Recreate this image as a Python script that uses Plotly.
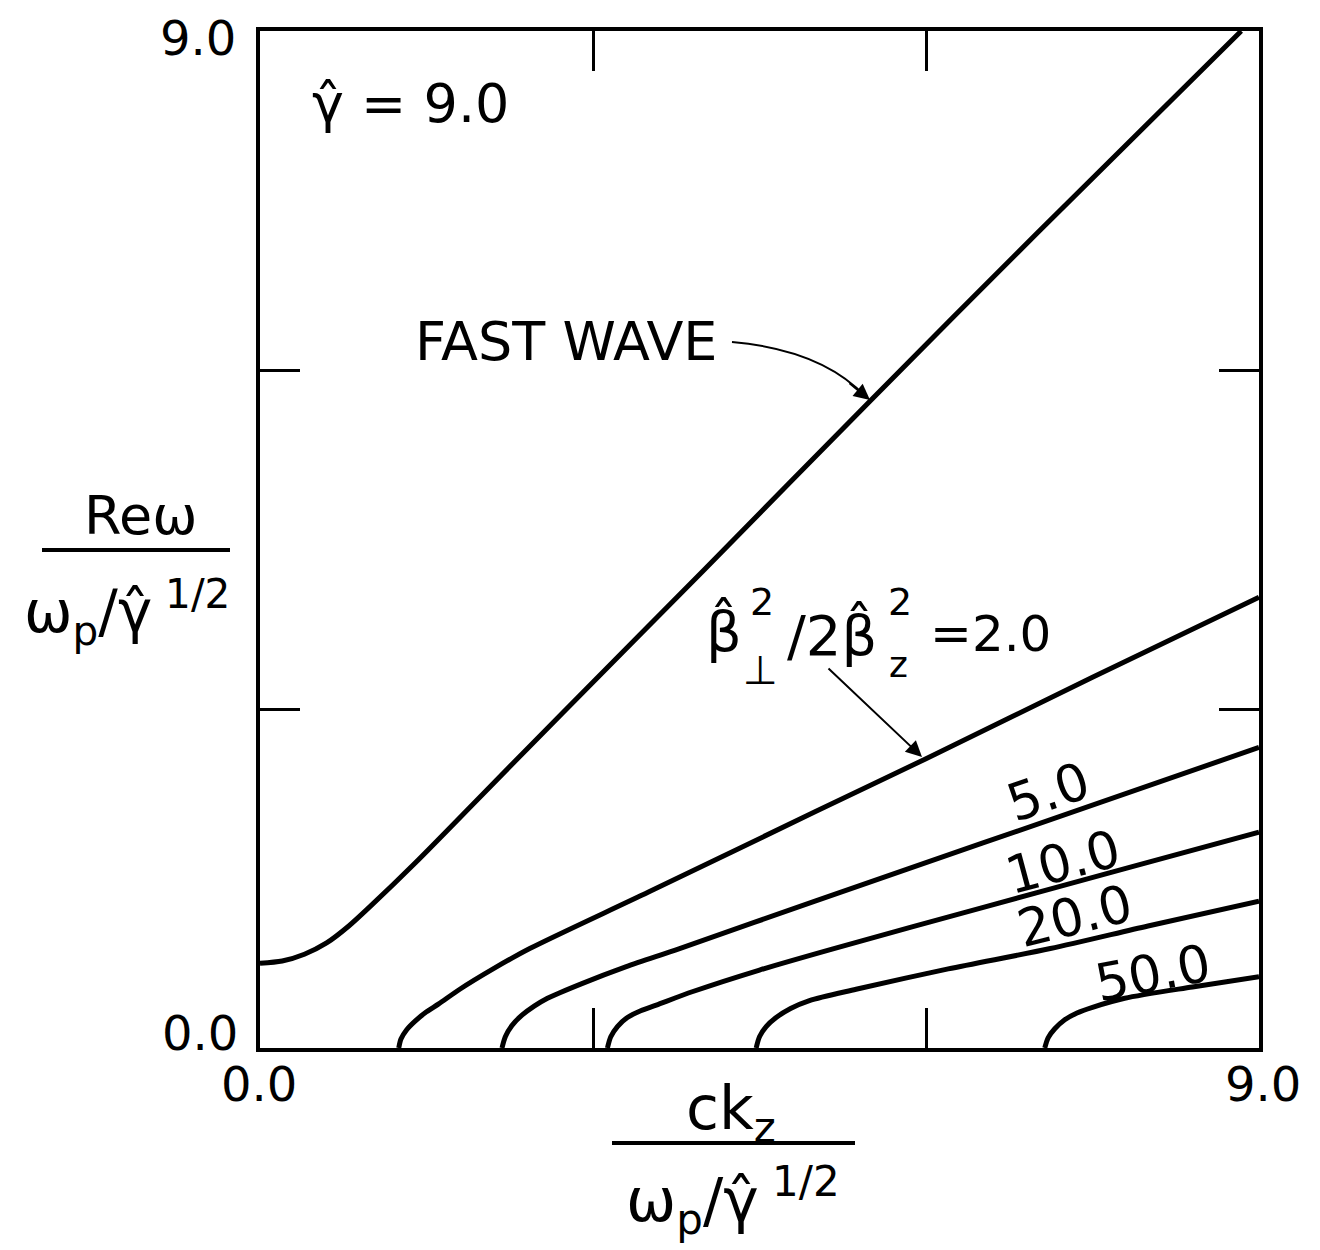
import plotly.graph_objects as go

# curvas (ck_z normalizado vs Re w normalizado)
fast_x = [0.0, 0.2, 0.4, 0.6, 0.8, 1.0, 1.4, 2.0, 2.73, 4.0, 5.49, 7.0, 8.84]
fast_y = [0.75, 0.77, 0.83, 0.93, 1.08, 1.26, 1.64, 2.24, 2.97, 4.23, 5.72, 7.21, 9.0]

b2_x = [1.25, 1.27, 1.32, 1.40, 1.50, 1.61, 1.80, 2.10, 2.43, 3.50, 5.00, 6.00, 7.50, 9.00]
b2_y = [0.0, 0.08, 0.16, 0.24, 0.32, 0.39, 0.52, 0.70, 0.88, 1.38, 2.09, 2.56, 3.28, 3.99]

b5_x = [2.18, 2.21, 2.27, 2.36, 2.47, 2.59, 2.90, 3.30, 3.78, 5.00, 6.50, 9.00]
b5_y = [0.0, 0.10, 0.20, 0.29, 0.37, 0.44, 0.57, 0.72, 0.88, 1.30, 1.81, 2.66]

b10_x = [3.13, 3.16, 3.22, 3.31, 3.43, 3.57, 3.90, 4.50, 5.17, 6.50, 7.80, 9.00]
b10_y = [0.0, 0.10, 0.19, 0.27, 0.33, 0.38, 0.50, 0.69, 0.88, 1.24, 1.59, 1.91]

b20_x = [4.47, 4.50, 4.56, 4.65, 4.78, 4.95, 5.37, 6.20, 7.12, 8.00, 9.00]
b20_y = [0.0, 0.10, 0.19, 0.27, 0.35, 0.42, 0.52, 0.70, 0.88, 1.08, 1.30]

b50_x = [7.07, 7.10, 7.16, 7.25, 7.36, 7.50, 7.79, 8.40, 9.00]
b50_y = [0.0, 0.09, 0.17, 0.25, 0.31, 0.36, 0.44, 0.54, 0.63]

tick_vals = [0, 3, 6, 9]
end_labels = ["0.0", "9.0"]

FONT = "DejaVu Sans"
# la pagina deja 8px de margen en el body
OFF = 8
W, H = 1320 - OFF, 1250 - OFF
PL, PR, PT, PB = 260, 1259, 31, 1048     # area de trazado en la pagina
L, T = PL - OFF, PT - OFF
R, B = W - (PR - OFF), H - (PB - OFF)

fig = go.Figure()
for xs, ys in [(fast_x, fast_y), (b2_x, b2_y), (b5_x, b5_y),
               (b10_x, b10_y), (b20_x, b20_y), (b50_x, b50_y)]:
    fig.add_trace(go.Scatter(x=xs, y=ys, mode="lines",
                             line=dict(color="black", width=5, shape="spline", smoothing=0.8),
                             showlegend=False, hoverinfo="skip"))

# pixel de pagina -> coordenadas de datos / papel (para colocar textos)
pw, ph = PR - PL, PB - PT
def dx(px): return (px - PL) / pw * 9
def dy(py): return (PB - py) / ph * 9
def qx(px): return (px - PL) / pw
def qy(py): return (PB - py) / ph

def txt(x, y, s, size=48, angle=0, ref="data"):
    if ref == "data":
        xx, yy, xr, yr = dx(x), dy(y), "x", "y"
    else:
        xx, yy, xr, yr = qx(x), qy(y), "paper", "paper"
    fig.add_annotation(x=xx, y=yy, xref=xr, yref=yr, text=s, showarrow=False,
                       textangle=angle, xanchor="center", yanchor="middle",
                       font=dict(family=FONT, size=size, color="black"))

# etiquetas de los extremos de los ejes
txt(198, 38, end_labels[1], 48, ref="paper")
txt(200, 1033, end_labels[0], 48, ref="paper")
txt(259, 1084, end_labels[0], 48, ref="paper")
txt(1263, 1084, end_labels[1], 48, ref="paper")

txt(410, 103, "γ\u0302 = 9.0", 54)
txt(566, 341, "FAST WAVE", 54)

# flecha curva de FAST WAVE
fig.add_shape(type="path", xref="x", yref="y",
              path=f"M {dx(732)},{dy(342)} Q {dx(822)},{dy(350)} {dx(866)},{dy(397)}",
              line=dict(color="black", width=2))
fig.add_annotation(x=dx(870), y=dy(400), ax=-22, ay=-18, showarrow=True,
                   arrowhead=2, arrowsize=1.6, arrowwidth=2, arrowcolor="black", text="")

# etiqueta beta_perp^2 / 2 beta_z^2 = 2.0
txt(724, 630, "β\u0302", 56)
txt(762, 602, "2", 38)
txt(760, 670, "⊥", 40)
txt(832, 634, "/2β\u0302", 56)
txt(900, 602, "2", 38)
txt(898, 664, "z", 36)
txt(990, 634, "=2.0", 50)
fig.add_annotation(x=dx(922), y=dy(757), ax=-95, ay=-90, showarrow=True,
                   arrowhead=2, arrowsize=1.6, arrowwidth=2, arrowcolor="black", text="")

txt(1048, 792, "5.0", 52, -19)
txt(1063, 862, "10.0", 52, -15)
txt(1075, 916, "20.0", 52, -14)
txt(1153, 973, "50.0", 52, -11)

# titulo eje y (fraccion)
txt(141, 515, "Reω", 54, ref="paper")
fig.add_shape(type="line", xref="paper", yref="paper", x0=qx(42), x1=qx(230),
              y0=qy(550), y1=qy(550), line=dict(color="black", width=4))
txt(127, 612, "ω<sub>p</sub>/γ\u0302<sup> 1/2</sup>", 58, ref="paper")

# titulo eje x (fraccion)
txt(731, 1112, "ck<sub>z</sub>", 60, ref="paper")
fig.add_shape(type="line", xref="paper", yref="paper", x0=qx(612), x1=qx(855),
              y0=qy(1143), y1=qy(1143), line=dict(color="black", width=4))
txt(733, 1200, "ω<sub>p</sub>/γ\u0302<sup> 1/2</sup>", 60, ref="paper")

axis_common = dict(range=[0, 9], tickvals=tick_vals, showticklabels=False,
                   ticks="inside", ticklen=40, tickwidth=3, tickcolor="black",
                   showline=True, linecolor="black", linewidth=4, mirror="allticks",
                   showgrid=False, zeroline=False, automargin=False)
fig.update_xaxes(**axis_common)
fig.update_yaxes(**axis_common)

fig.update_layout(width=W, height=H, plot_bgcolor="white", paper_bgcolor="white",
                  margin=dict(l=L, r=R, t=T, b=B, autoexpand=False), showlegend=False)

fig.write_html("out.html")
